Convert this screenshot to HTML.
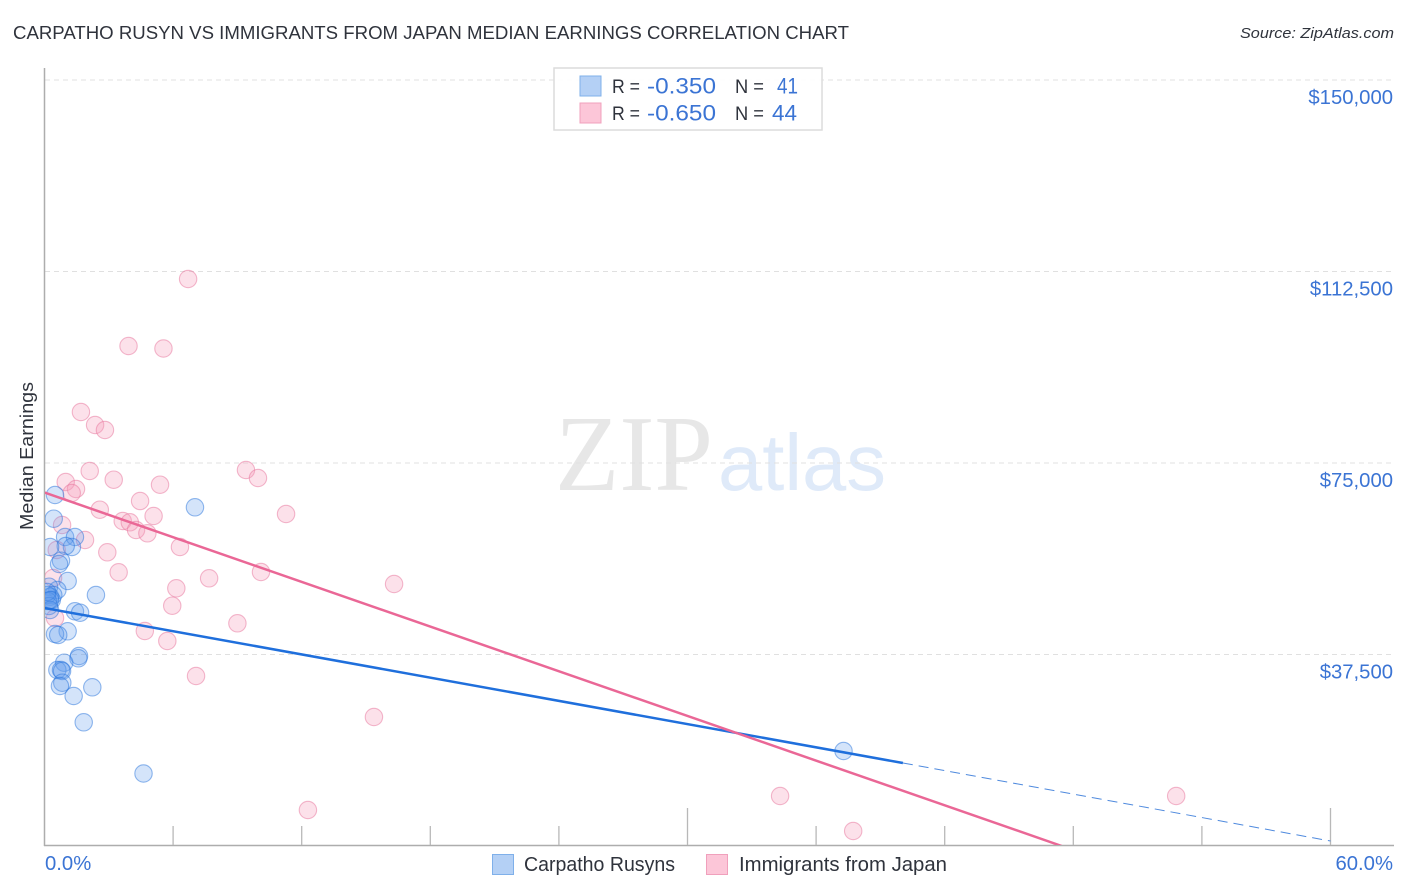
<!DOCTYPE html>
<html>
<head>
<meta charset="utf-8">
<title>Carpatho Rusyn vs Immigrants from Japan Median Earnings Correlation Chart</title>
<style>
html,body{margin:0;padding:0;background:#fff;}
svg{display:block;font-family:"Liberation Sans",sans-serif;}
</style>
</head>
<body>
<svg id="chart" width="1406" height="892" viewBox="0 0 1406 892" xmlns="http://www.w3.org/2000/svg">
  <defs><clipPath id="plot-clip"><rect x="45" y="60" width="1349" height="785"/></clipPath></defs>
  <text x="13" y="39" font-size="18.5" fill="#2f333c" textLength="836" lengthAdjust="spacingAndGlyphs">CARPATHO RUSYN VS IMMIGRANTS FROM JAPAN MEDIAN EARNINGS CORRELATION CHART</text>
  <text x="1394" y="38" font-size="15" font-style="italic" fill="#2f333c" text-anchor="end" textLength="154" lengthAdjust="spacingAndGlyphs">Source: ZipAtlas.com</text>

  <g>
    <text x="555" y="490" font-family="'Liberation Serif',serif" font-size="108" fill="#e7e7e7" textLength="158" lengthAdjust="spacingAndGlyphs">ZIP</text>
    <text x="718" y="490" font-size="80" fill="#dfeaf9" textLength="168" lengthAdjust="spacingAndGlyphs">atlas</text>
  </g>

  <g id="grid"></g>
  <g id="axes"></g>
  <g id="points" clip-path="url(#plot-clip)"></g>
  <g id="trends" clip-path="url(#plot-clip)"></g>
  <g id="labels"></g>

  <text transform="translate(33,456) rotate(-90)" font-size="18" fill="#2f333c" text-anchor="middle" textLength="148" lengthAdjust="spacingAndGlyphs">Median Earnings</text>

  <g>
    <rect x="554" y="68" width="268" height="62" fill="#fff" fill-opacity="0.9" stroke="#dcdcdc" stroke-width="1.5"/>
    <rect x="580" y="76" width="21" height="20" fill="#b4d0f5" stroke="#7fb0ea" stroke-width="1"/>
    <rect x="580" y="103" width="21" height="20" fill="#fcc6d8" stroke="#f0a0bc" stroke-width="1"/>
    <text x="612" y="93" font-size="19" fill="#2f333c" textLength="28" lengthAdjust="spacingAndGlyphs">R =</text>
    <text x="647" y="93.5" font-size="22" fill="#3b74d4" textLength="69" lengthAdjust="spacingAndGlyphs">-0.350</text>
    <text x="735" y="93" font-size="19" fill="#2f333c" textLength="29" lengthAdjust="spacingAndGlyphs">N =</text>
    <text x="777" y="93.5" font-size="22" fill="#3b74d4" textLength="21" lengthAdjust="spacingAndGlyphs">41</text>
    <text x="612" y="120" font-size="19" fill="#2f333c" textLength="28" lengthAdjust="spacingAndGlyphs">R =</text>
    <text x="647" y="120.5" font-size="22" fill="#3b74d4" textLength="69" lengthAdjust="spacingAndGlyphs">-0.650</text>
    <text x="735" y="120" font-size="19" fill="#2f333c" textLength="29" lengthAdjust="spacingAndGlyphs">N =</text>
    <text x="772" y="120.5" font-size="22" fill="#3b74d4" textLength="25" lengthAdjust="spacingAndGlyphs">44</text>
  </g>

  <g>
    <rect x="492.5" y="854.5" width="21" height="20" fill="#b4d0f5" stroke="#7fb0ea" stroke-width="1"/>
    <text x="524" y="871" font-size="20" fill="#2f333c" textLength="151" lengthAdjust="spacingAndGlyphs">Carpatho Rusyns</text>
    <rect x="706.5" y="854.5" width="21" height="20" fill="#fcc6d8" stroke="#f0a0bc" stroke-width="1"/>
    <text x="739" y="871" font-size="20" fill="#2f333c" textLength="208" lengthAdjust="spacingAndGlyphs">Immigrants from Japan</text>
  </g>
</svg>
<script>
// Data
const yTicks = [37500, 75000, 112500, 150000];
const yTickLabels = ['$37,500', '$75,000', '$112,500', '$150,000'];
const xTicks = [6, 12, 18, 24, 30, 36, 42, 48, 54, 60];
const xMajorTicks = [30, 60];
const xEndLabels = ['0.0%', '60.0%'];

const rusynX = [0.49,0.43,7.02,0.96,1.42,1.28,0.99,0.26,0.77,0.68,1.08,0.60,0.21,0.41,0.26,0.34,0.12,0.16,2.40,1.42,1.66,0.21,0.26,1.08,0.49,0.64,1.61,1.58,0.92,0.60,0.77,0.82,0.83,0.72,2.23,1.36,1.83,4.62,37.28,0.12,0.26];
const rusynY = [68733,64092,66324,60508,60508,58550,58746,58550,55867,55221,51892,50130,50776,49151,48818,48172,49151,47976,49151,45959,45685,46997,46214,42042,41514,41318,37206,36755,35894,34464,34464,34269,31977,31331,31077,29373,24223,14197,18603,49738,48172];

const japanX = [6.70,3.92,5.55,1.70,2.36,2.82,2.11,0.99,1.47,1.27,3.23,5.39,9.40,9.96,4.46,2.58,5.09,11.27,3.65,3.98,4.27,4.80,0.82,1.89,6.32,0.57,2.93,3.46,10.10,7.68,6.15,16.31,5.96,4.68,5.73,9.00,7.07,15.37,12.29,34.32,37.73,52.80,0.40,0.49];
const japanY = [111030,97910,97420,84986,82440,81461,73433,71278,69908,69124,71729,70750,73628,72062,67558,65854,64621,65012,63642,63387,61879,61233,62858,59921,58550,57963,57512,53596,53655,52421,50463,51305,47055,42101,40143,43609,33289,25261,7050,9791,2937,9791,52480,44647];

const rusynTrendX = [0, 40.05];
const rusynTrendY = [46605, 16253];
const rusynDashX = [40.05, 60];
const rusynDashY = [16253, 979];
const japanTrendX = [0, 47.46];
const japanTrendY = [69222, 0];

// Axis functions
const xScale = v => 44.5 + v * 21.4333;
const yScale = v => 846 - v * 191.5 / 37500;

const NS = 'http://www.w3.org/2000/svg';
function make(parent, tag, attrs, text) {
  const el = document.createElementNS(NS, tag);
  for (const k in attrs) el.setAttribute(k, attrs[k]);
  if (text !== undefined) el.textContent = text;
  document.getElementById(parent).appendChild(el);
  return el;
}

// Gridlines
yTicks.forEach(v => {
  const el = make('grid', 'line', {x1: 45, x2: 1394, y1: yScale(v), y2: yScale(v), stroke: '#e0e0e0', 'stroke-width': 1, 'stroke-dasharray': '5 4'});
  
  
});

// Axes
const yAxis = make('axes', 'line', {x1: 44.5, x2: 44.5, y1: 68, y2: 846, stroke: '#adadad', 'stroke-width': 1.5});


const xAxis = make('axes', 'line', {x1: 44, x2: 1394, y1: 845.5, y2: 845.5, stroke: '#adadad', 'stroke-width': 1.5});


xTicks.forEach(v => {
  const top = xMajorTicks.includes(v) ? 808 : 826;
  const el = make('axes', 'line', {x1: xScale(v), x2: xScale(v), y1: top, y2: 845, stroke: '#b8b8b8', 'stroke-width': 1.3});
  
  
});

// Points
function drawPoints(xs, ys, fill, stroke, name) {
  xs.forEach((x, i) => {
    const el = make('points', 'circle', {cx: xScale(x), cy: yScale(ys[i]), r: 8.7, fill: fill, stroke: stroke, 'stroke-width': 1.1});
    
    
  });
}
drawPoints(japanX, japanY, 'rgba(245,155,185,0.30)', 'rgba(232,115,155,0.50)', 'point-immigrants-from-japan');
drawPoints(rusynX, rusynY, 'rgba(95,155,235,0.27)', 'rgba(40,115,220,0.50)', 'point-carpatho-rusyns');

// Trend lines
const t1 = make('trends', 'line', {x1: xScale(rusynDashX[0]), y1: yScale(rusynDashY[0]), x2: xScale(rusynDashX[1]), y2: yScale(rusynDashY[1]), stroke: '#4f8ade', 'stroke-width': 1, 'stroke-dasharray': '10 6'});


const t2 = make('trends', 'line', {x1: xScale(rusynTrendX[0]), y1: yScale(rusynTrendY[0]), x2: xScale(rusynTrendX[1]), y2: yScale(rusynTrendY[1]), stroke: '#1f6fdc', 'stroke-width': 2.5});


const t3 = make('trends', 'line', {x1: xScale(japanTrendX[0]), y1: yScale(japanTrendY[0]), x2: xScale(japanTrendX[1]), y2: yScale(japanTrendY[1]), stroke: '#ea6796', 'stroke-width': 2.5});



// Labels
yTicks.forEach((v, i) => {
  const el = make('labels', 'text', {x: 1393, y: yScale(v) + 24, 'font-size': 20.3, fill: '#3b74d4', 'text-anchor': 'end'}, yTickLabels[i]);
  
  
});
const x0Label = make('labels', 'text', {x: 45, y: 870, 'font-size': 20.3, fill: '#3b74d4'}, xEndLabels[0]);


const x1Label = make('labels', 'text', {x: 1393, y: 870, 'font-size': 20.3, fill: '#3b74d4', 'text-anchor': 'end'}, xEndLabels[1]);


</script>
</body>
</html>
